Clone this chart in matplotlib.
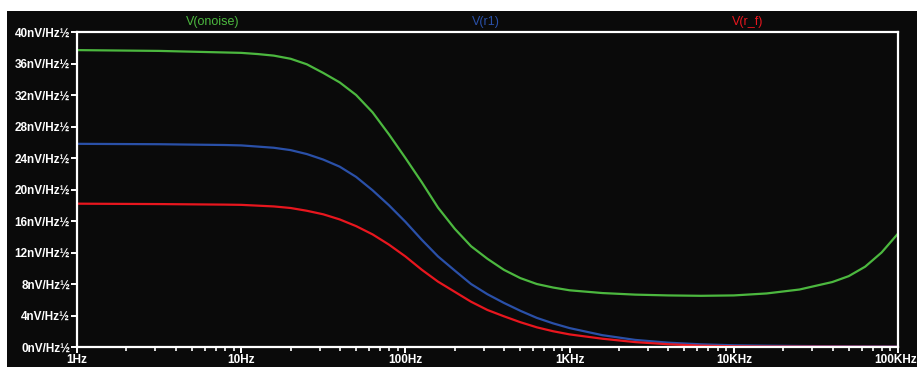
import matplotlib
matplotlib.use("Agg")
import matplotlib.pyplot as plt
from matplotlib.patches import Rectangle
from matplotlib.ticker import FixedLocator, LogLocator, NullFormatter

# Frequency points (Hz), tenth-decade spacing through the roll-off region
freq = [1, 3.16, 7.94, 10, 12.6, 15.8, 20, 25.1, 31.6, 39.8, 50.1, 63.1, 79.4,
        100, 126, 158, 200, 251, 316, 398, 501, 631, 794, 1000, 1585, 2512,
        3981, 6310, 10000, 15850, 25120, 39810, 50120, 63100, 79430, 100000]

# Noise spectral densities (nV/sqrt(Hz))
v_onoise = [37.7, 37.6, 37.4, 37.35, 37.2, 37.0, 36.6, 35.9, 34.8, 33.6, 32.0,
            29.8, 27.0, 24.0, 20.9, 17.7, 15.0, 12.8, 11.2, 9.8, 8.75, 8.0, 7.55,
            7.2, 6.85, 6.65, 6.55, 6.5, 6.55, 6.8, 7.3, 8.25, 9.0, 10.2, 12.0, 14.4]
v_r1 = [25.8, 25.75, 25.65, 25.6, 25.45, 25.3, 25.0, 24.5, 23.8, 22.9, 21.6,
        19.9, 18.0, 15.9, 13.6, 11.5, 9.7, 8.0, 6.7, 5.6, 4.6, 3.7, 3.0,
        2.4, 1.5, 0.9, 0.55, 0.34, 0.22, 0.17, 0.13, 0.1, 0.09, 0.08, 0.07, 0.06]
v_rf = [18.2, 18.15, 18.08, 18.05, 17.95, 17.85, 17.65, 17.3, 16.85, 16.2, 15.35,
        14.3, 13.0, 11.5, 9.8, 8.3, 7.0, 5.75, 4.7, 3.9, 3.15, 2.5, 2.0,
        1.6, 1.05, 0.62, 0.35, 0.17, 0.09, 0.06, 0.05, 0.04, 0.035, 0.03, 0.025, 0.02]

y_ticks = list(range(0, 41, 4))
y_labels = [f"{v}nV/Hz\u00bd" for v in y_ticks]
x_ticks = [1, 10, 100, 1000, 10000, 100000]
x_labels = ["1Hz", "10Hz", "100Hz", "1KHz", "10KHz", "100KHz"]

trace_names = ["V(onoise)", "V(r1)", "V(r_f)"]
trace_colors = ["#4cb83f", "#2a50a8", "#e8161e"]

W, H = 917, 367
fig = plt.figure(figsize=(W / 100, H / 100), dpi=100, facecolor="white")
fig.patches.append(Rectangle((7 / W, 0), 1 - 7 / W, 1 - 11 / H,
                             transform=fig.transFigure, facecolor="#0a0a0a",
                             edgecolor="none", zorder=-10))

ax = fig.add_axes([77 / W, 20 / H, (898 - 77) / W, (347 - 32) / H])
ax.set_zorder(2)
ax.set_facecolor("#0a0a0a")

for vals, color in zip([v_onoise, v_r1, v_rf], trace_colors):
    ax.plot(freq, vals, color=color, lw=1.6, solid_joinstyle="round")

ax.set_xscale("log")
ax.set_xlim(1, 100000)
ax.set_ylim(0, 40)

for side in ["left", "right", "top", "bottom"]:
    ax.spines[side].set_color("white")
    ax.spines[side].set_linewidth(1.6)

ax.xaxis.set_major_locator(FixedLocator(x_ticks))
ax.set_xticklabels(x_labels[:-1] + [""])
ax.xaxis.set_minor_locator(LogLocator(base=10, subs=range(2, 10), numticks=20))
ax.xaxis.set_minor_formatter(NullFormatter())
ax.set_yticks(y_ticks)
ax.set_yticklabels(y_labels)

ax.tick_params(axis="both", which="major", colors="white", direction="out",
               length=4, width=1.4, pad=1)
ax.tick_params(axis="x", which="minor", colors="white", direction="out",
               length=3, width=1.2)
label_font = dict(fontfamily="Liberation Sans", fontweight="bold", fontsize=8.5)
for lab in ax.get_xticklabels() + ax.get_yticklabels():
    lab.set(**label_font)
    lab.set_color("white")

# last frequency label, pushed right up to the figure edge
ax.annotate(x_labels[-1], xy=(x_ticks[-1], 0), xycoords=("data", "axes fraction"),
            xytext=(13.5, -5), textcoords="offset points", ha="right", va="top",
            color="white", **label_font)

title_x = [213, 486, 748]
for name, color, tx in zip(trace_names, trace_colors, title_x):
    fig.text(tx / W, 1 - 22 / H, name, color=color, ha="center", va="center",
             fontsize=9, fontfamily="Liberation Sans")

fig.savefig("out.png", dpi=100, facecolor=fig.get_facecolor())
